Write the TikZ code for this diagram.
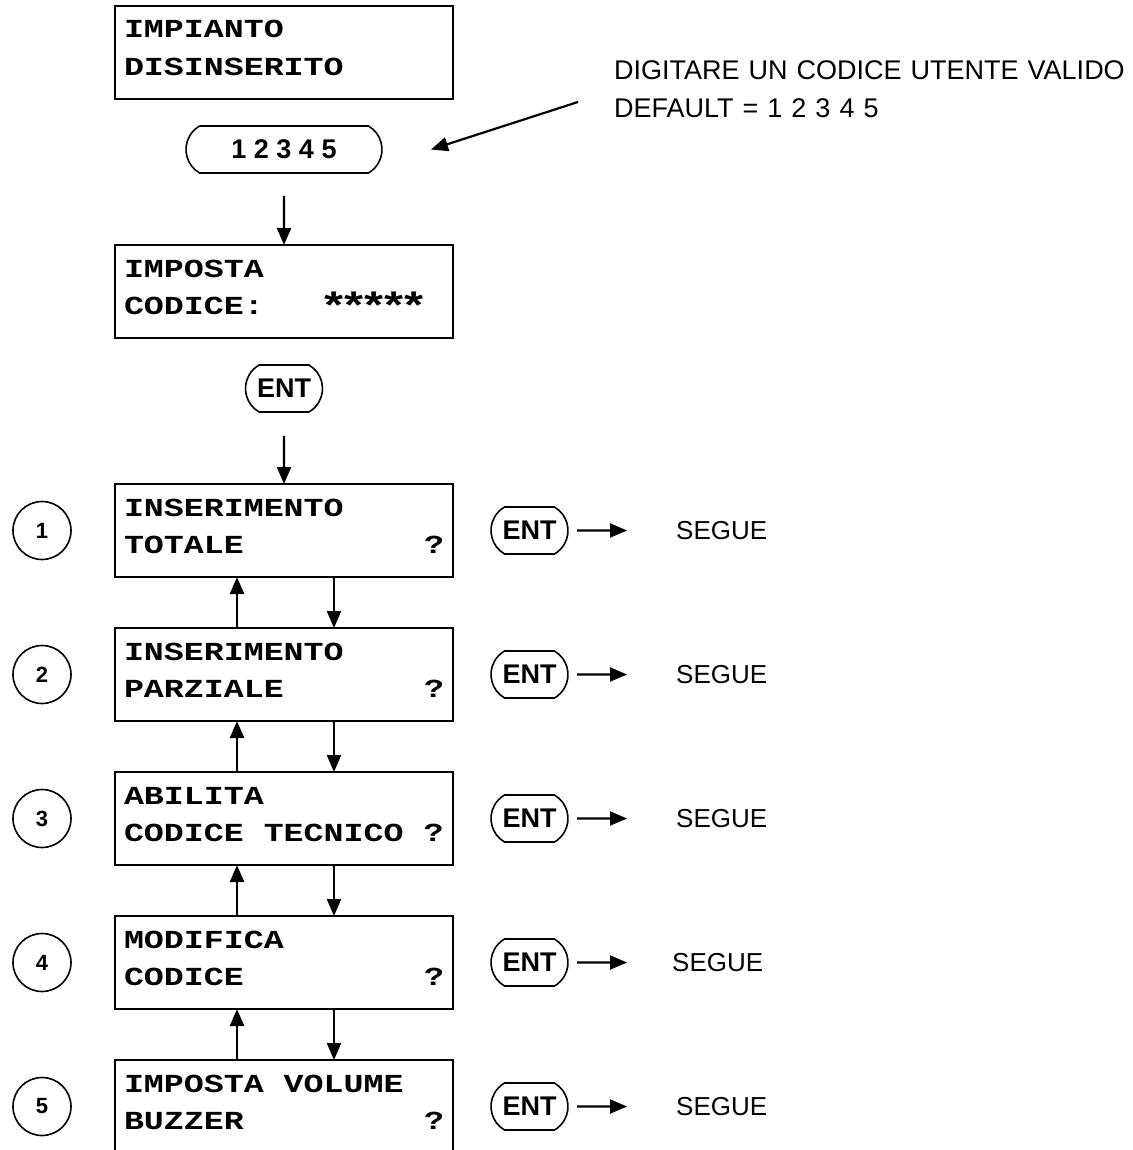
\documentclass[tikz,border=0pt]{standalone}
\usepackage{fontspec}
\usepackage{tikz}
\usetikzlibrary{arrows.meta,positioning,shapes.misc}
\newfontfamily\keyfont{Liberation Sans}
\newfontfamily\lcdfont{Liberation Mono}[FakeStretch=1.28]
\newcommand{\lcdtype}{\lcdfont\bfseries\fontsize{26}{37.5}\selectfont}
\newcommand{\lcdspace}{\spaceskip=20pt\relax}
\newcommand{\lcdstar}{\makebox[20pt]{\raisebox{-5pt}{\fontsize{38}{37.5}\selectfont*}}}

\begin{document}
\begin{tikzpicture}[x=1pt,y=-1pt,>={Triangle[length=17pt,width=14pt]},
  lcd/.style={draw,line width=2.2pt,rectangle,outer sep=0pt,text width=320pt,align=left,inner xsep=9pt,inner ysep=0pt,text height=32pt,text depth=61pt,font=\lcdtype,execute at begin node=\lcdspace},
  keypill/.style={draw,line width=1.6pt,rounded rectangle,rounded rectangle arc length=120,outer sep=0pt,minimum height=47pt,inner sep=0pt,font=\keyfont\bfseries\fontsize{27}{30}\selectfont},
  stepnum/.style={draw,line width=1.6pt,circle,outer sep=0pt,minimum size=58pt,inner sep=0pt,font=\keyfont\bfseries\fontsize{22}{24}\selectfont},
  nexttxt/.style={inner sep=0pt,font=\keyfont\fontsize{26}{30}\selectfont},
  arr/.style={->,line width=2.2pt}]
  \useasboundingbox (0,0) rectangle (1132,1150);
  \node[lcd,anchor=north] (idle) at (284,6) {IMPIANTO\\DISINSERITO};
  \node[keypill,minimum width=196pt,below=27pt of idle] (pin) {1 2 3 4 5};
  \node[lcd,below=72pt of pin] (code) {IMPOSTA\\CODICE:\hfill\lcdstar\lcdstar\lcdstar\lcdstar\lcdstar\phantom{*}};
  \node[keypill,minimum width=77pt,below=27pt of code] (ent) {ENT};
  \node[anchor=base west,text width=540pt,align=left,inner sep=0pt,font=\keyfont\fontsize{27}{38}\selectfont] (hint) at (614,80) {DIGITARE UN CODICE UTENTE VALIDO\\DEFAULT = 1 2 3 4 5};
  \coordinate (hintTail) at ([shift={(-36,22)}]hint.base west);
  \draw[arr] (hintTail) -- ([xshift=49pt]pin.east);
  % menu
  \node[lcd,below=72pt of ent] (m1) {INSERIMENTO\\TOTALE\hfill?};
  \node[lcd,below=51pt of m1] (m2) {INSERIMENTO\\PARZIALE\hfill?};
  \node[lcd,below=51pt of m2] (m3) {ABILITA\\CODICE TECNICO ?};
  \node[lcd,below=51pt of m3] (m4) {MODIFICA\\CODICE\hfill?};
  \node[lcd,below=51pt of m4] (m5) {IMPOSTA VOLUME\\BUZZER\hfill?};
  \draw[arr,shorten <=23pt] (pin) -- (code); \draw[arr,shorten <=24pt] (ent) -- (m1);
  \node[stepnum,left=44pt of m1] (n1) {1}; \node[stepnum,left=44pt of m2] (n2) {2}; \node[stepnum,left=44pt of m3] (n3) {3};
  \node[stepnum,left=44pt of m4] (n4) {4}; \node[stepnum,left=44pt of m5] (n5) {5};
  \node[keypill,minimum width=77pt,right=38pt of m1] (e1) {ENT}; \node[nexttxt,right=108pt of e1] (g1) {SEGUE};
  \node[keypill,minimum width=77pt,right=38pt of m2] (e2) {ENT}; \node[nexttxt,right=108pt of e2] (g2) {SEGUE};
  \node[keypill,minimum width=77pt,right=38pt of m3] (e3) {ENT}; \node[nexttxt,right=108pt of e3] (g3) {SEGUE};
  \node[keypill,minimum width=77pt,right=38pt of m4] (e4) {ENT}; \node[nexttxt,right=104pt of e4] (g4) {SEGUE};
  \node[keypill,minimum width=77pt,right=38pt of m5] (e5) {ENT}; \node[nexttxt,right=108pt of e5] (g5) {SEGUE};
  \draw[arr,shorten <=9pt,shorten >=49pt] (e1) -- (g1); \draw[arr,shorten <=9pt,shorten >=49pt] (e2) -- (g2);
  \draw[arr,shorten <=9pt,shorten >=49pt] (e3) -- (g3); \draw[arr,shorten <=9pt,shorten >=45pt] (e4) -- (g4);
  \draw[arr,shorten <=9pt,shorten >=49pt] (e5) -- (g5);
  \draw[arr] ([xshift=-47pt]m2.north) -- ([xshift=-47pt]m1.south); \draw[arr] ([xshift=50pt]m1.south) -- ([xshift=50pt]m2.north);
  \draw[arr] ([xshift=-47pt]m3.north) -- ([xshift=-47pt]m2.south); \draw[arr] ([xshift=50pt]m2.south) -- ([xshift=50pt]m3.north);
  \draw[arr] ([xshift=-47pt]m4.north) -- ([xshift=-47pt]m3.south); \draw[arr] ([xshift=50pt]m3.south) -- ([xshift=50pt]m4.north);
  \draw[arr] ([xshift=-47pt]m5.north) -- ([xshift=-47pt]m4.south); \draw[arr] ([xshift=50pt]m4.south) -- ([xshift=50pt]m5.north);
\end{tikzpicture}
\end{document}
